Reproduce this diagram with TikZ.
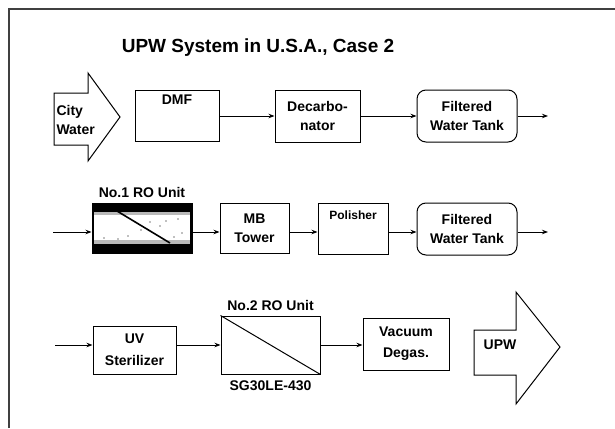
\documentclass[tikz,border=0pt]{standalone}
\usepackage{fontspec}
\setmainfont{Liberation Sans}
\usetikzlibrary{arrows.meta}
\usetikzlibrary{positioning}

\begin{document}
\begin{tikzpicture}[x=1pt, y=-1pt, line width=1pt,
	procbox/.style={draw, rectangle, inner sep=0pt, align=center,
		font=\fontsize{14}{19}\selectfont\bfseries},
	tankbox/.style={procbox, rounded corners=9pt},
	txt/.style={inner sep=0pt, align=center, font=\fontsize{14}{19}\selectfont\bfseries},
	flow/.style={-{Stealth[length=6pt,width=4.5pt]}, line width=1pt},
	]
	\def\rowA{116}   % first row
	\def\rowB{232}   % second row
	\def\rowC{345}   % third row

\useasboundingbox (0,0) rectangle (615,428);

% frame
\draw[line width=1.4pt, black!75] (9,428) -- (9,9) -- (615,9);

\node[txt, font=\fontsize{19}{22}\selectfont\bfseries] (title) at (258,48) {UPW System in U.S.A., Case 2};

% city water
\draw (54,93) -- (88,93) -- (88,73) -- (120,117) -- (88,161) -- (88,145) -- (54,145) -- cycle;
\node[txt, align=left, anchor=west] (city) at (56,120) {City\\Water};

% row 1
\node[procbox, minimum width=84, minimum height=51] (dmf) at (177,115.5) {};
\node[txt, anchor=north] (dmftxt) at ([yshift=-5pt]dmf.north) {DMF};
\node[procbox, minimum width=85, minimum height=52] (decarb) at (317.5,116) {Decarbo-\\nator};
\node[tankbox, minimum width=100, minimum height=52] (tankA) at (467,116) {Filtered\\Water Tank};
\coordinate (outA) at (548,\rowA);

\draw[flow] (dmf.east |- 0,\rowA) -- (decarb.west |- 0,\rowA);
\draw[flow] (decarb.east |- 0,\rowA) -- (tankA.west |- 0,\rowA);
\draw[flow] (tankA.east |- 0,\rowA) -- (outA);

% row 2
\coordinate (inB) at (53,\rowB);
\node[procbox, minimum width=100, minimum height=50, fill=black] (ro1) at (142,228) {};
\fill[white] (94,213) rectangle (190,243);
\fill[gray!55] (94,212) rectangle (190,215);
\fill[gray!55] (94,240) rectangle (190,244);
\foreach \dx/\dy in {150/222, 160/226, 166/221, 141/230, 178/219, 128/236, 182/233, 104/238, 118/239, 174/237}
	\fill[gray] (\dx,\dy) circle (0.8pt);
\draw[line width=1.6pt] (117,211) -- (170,243);
\node[txt, anchor=south] (ro1txt) at ([yshift=4pt]ro1.north) {No.1 RO Unit};
\node[procbox, minimum width=69, minimum height=50] (mb) at (254.5,228) {MB\\Tower};
\node[procbox, minimum width=70, minimum height=51] (polisher) at (353,228.5) {};
\node[txt, anchor=north, font=\fontsize{12}{14}\selectfont\bfseries] (poltxt) at ([yshift=-8pt]polisher.north) {Polisher};
\node[tankbox, minimum width=100, minimum height=52] (tankB) at (467,229) {Filtered\\Water Tank};
\coordinate (outB) at (548,\rowB);

\draw[flow] (inB) -- (inB -| ro1.west);
\draw[flow] (inB -| ro1.east) -- (inB -| mb.west);
\draw[flow] (inB -| mb.east) -- (inB -| polisher.west);
\draw[flow] (inB -| polisher.east) -- (inB -| tankB.west);
\draw[flow] (inB -| tankB.east) -- (outB);

% row 3
\coordinate (inC) at (55,\rowC);
\node[procbox, minimum width=83, minimum height=48, font=\fontsize{14}{22}\selectfont\bfseries] (uv) at (134.5,350) {UV\\Sterilizer};
\node[procbox, minimum width=99, minimum height=58] (ro2) at (270.5,345) {};
\draw (ro2.north west) -- (ro2.south east);
\node[txt, anchor=south] (ro2txt) at ([yshift=4pt]ro2.north) {No.2 RO Unit};
\node[txt, anchor=north] (ro2type) at ([yshift=-6pt]ro2.south) {SG30LE-430};
\node[procbox, minimum width=86, minimum height=52, font=\fontsize{14}{21}\selectfont\bfseries] (vacuum) at (406,344) {Vacuum\\Degas.};

\draw[flow] (inC) -- (inC -| uv.west);
\draw[flow] (inC -| uv.east) -- (inC -| ro2.west);
\draw[flow] (inC -| ro2.east) -- (inC -| vacuum.west);

% upw
\draw (474,330) -- (516,330) -- (516,292) -- (560,347) -- (516,404) -- (516,375) -- (474,375) -- cycle;
\node[txt] (upw) at (500,345) {UPW};

\end{tikzpicture}
\end{document}
